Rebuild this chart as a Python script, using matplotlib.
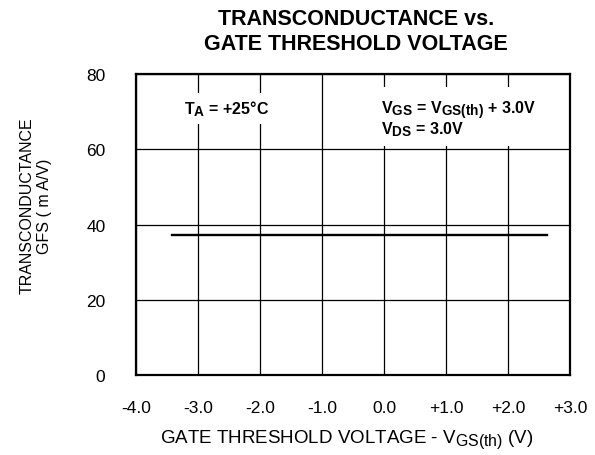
import matplotlib
matplotlib.use("Agg")
import matplotlib.pyplot as plt
import matplotlib._mathtext as mtext

# subscripts in the original are almost full size
mtext.SHRINK_FACTOR = 0.85

plt.rcParams['font.family'] = ['Liberation Sans', 'DejaVu Sans']
plt.rcParams['mathtext.fontset'] = 'custom'
plt.rcParams['mathtext.rm'] = 'Liberation Sans'
plt.rcParams['mathtext.bf'] = 'Liberation Sans:bold'

# data
vgs_th = [-3.42, 2.63]
gfs = [37.2, 37.2]
x_ticks = [-4, -3, -2, -1, 0, 1, 2, 3]
x_labels = ['-4.0', '-3.0', '-2.0', '-1.0', '0.0', '+1.0', '+2.0', '+3.0']
y_ticks = [0, 20, 40, 60, 80]

fig = plt.figure(figsize=(5.95, 4.56), dpi=100)
ax = fig.add_axes([136/595, 1 - 376/456, 434/595, 301/456])

ax.plot(vgs_th, gfs, color='black', lw=1.7, zorder=3)

ax.set_xlim(-4, 3)
ax.set_ylim(0, 80)
ax.set_xticks(x_ticks)
ax.set_xticklabels(x_labels)
ax.set_yticks(y_ticks)
ax.tick_params(length=0, labelsize=12.5)
ax.tick_params(axis='x', pad=18)
ax.tick_params(axis='y', pad=22)
ax.grid(True, color='black', lw=0.9)
ax.set_axisbelow(True)
for s in ax.spines.values():
    s.set_linewidth(1.6)

ax.text(-3.22, 69.5, r'$\mathbf{T_A}$ = +25°C', fontsize=11.5, fontweight='bold',
        va='baseline', ha='left', bbox=dict(facecolor='white', edgecolor='none', pad=4), zorder=4)
ax.text(-0.05, 68.2, r'$\mathbf{V_{GS}}$ = $\mathbf{V_{GS(th)}}$ + 3.0V' + '\n' + r'$\mathbf{V_{DS}}$ = 3.0V',
        fontsize=11.5, fontweight='bold', va='center', ha='left', linespacing=0.9,
        bbox=dict(facecolor='white', edgecolor='none', pad=6), zorder=4)

fig.text(356/595, 1 - 32/456, 'TRANSCONDUCTANCE vs.\nGATE THRESHOLD VOLTAGE',
         ha='center', va='center', fontsize=15.5, fontweight='bold', linespacing=1.2)
fig.text(347/595, 1 - 440/456, r'GATE THRESHOLD VOLTAGE - $\mathrm{V_{GS(th)}}$ (V)',
         ha='center', va='center', fontsize=13.5)
fig.text(36/595, 1 - 206/456, 'TRANSCONDUCTANCE\nGFS ( m A/V)', rotation=90,
         ha='center', va='center', fontsize=11.5, multialignment='center', linespacing=1.15)

fig.savefig('out.png', dpi=100)
